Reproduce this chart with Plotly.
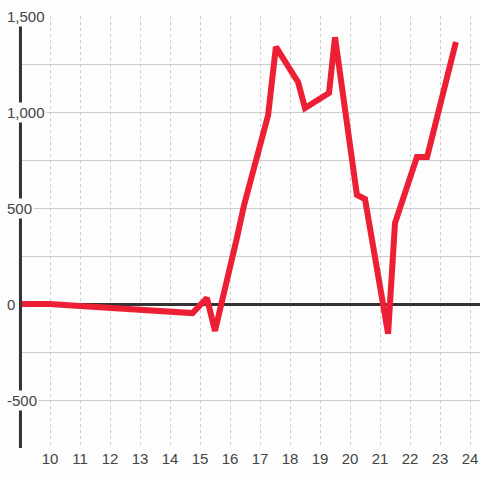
import plotly.graph_objects as go

BG = "#fcfdfc"
RED = "#ed1f34"
DARK = "#333333"
GRID = "#cccccc"
FONT = "Liberation Sans, Arial, sans-serif"

# series
x_vals = [9, 10, 11, 12, 13, 14, 14.75, 15.23, 15.5, 16.23, 16.47, 17.27, 17.53,
          18.27, 18.5, 19.3, 19.5, 20.23, 20.5, 21.27, 21.5, 22.23, 22.57, 23.53]
y_vals = [0, 0, -10, -20, -30, -40, -47, 31, -140, 344, 516, 984, 1340,
          1156, 1021, 1099, 1390, 568, 547, -155, 422, 766, 766, 1365]

x_ticks = list(range(10, 25))
y_ticks = [1500, 1000, 500, 0, -500]
y_labels = ["1,500", "1,000", "500", "0", "-500"]

fig = go.Figure(go.Scatter(
    x=x_vals,
    y=y_vals,
    mode="lines",
    line=dict(color=RED, width=6),
    hoverinfo="skip",
))

# y axis line on the left edge of the plot
fig.add_shape(
    type="line", xref="paper", yref="paper",
    x0=0.001, x1=0.001, y0=0, y1=1,
    line=dict(color=DARK, width=3),
    layer="above",
)

# y tick labels with a background that masks the axis and grid
for v, txt in zip(y_ticks, y_labels):
    fig.add_annotation(
        x=-0.033, xref="paper", xanchor="left",
        y=v, yref="y", yanchor="middle",
        text=txt, showarrow=False,
        font=dict(size=15, color="#444444", family=FONT),
        bgcolor=BG, borderpad=1,
    )

fig.update_layout(
    width=480,
    height=480,
    paper_bgcolor=BG,
    plot_bgcolor=BG,
    margin=dict(t=16, b=32, l=20, r=0),
    showlegend=False,
    font=dict(family=FONT, size=15, color="#444444"),
    xaxis=dict(
        range=[9, 24.333],
        tickvals=x_ticks,
        ticks="",
        showline=False,
        zeroline=False,
        showgrid=True,
        gridcolor=GRID,
        gridwidth=1,
        griddash="3px,3px",
        tickfont=dict(size=15, color="#444444"),
    ),
    yaxis=dict(
        range=[-750, 1500.5],
        tickvals=[-750, -500, -250, 0, 250, 500, 750, 1000, 1250, 1500],
        showticklabels=False,
        ticks="",
        showline=False,
        showgrid=True,
        gridcolor=GRID,
        gridwidth=1,
        zeroline=True,
        zerolinecolor=DARK,
        zerolinewidth=3,
    ),
)

fig.write_html(
    "out.html",
    config={"displayModeBar": False},
    post_script="document.body.style.margin='0';",
)
